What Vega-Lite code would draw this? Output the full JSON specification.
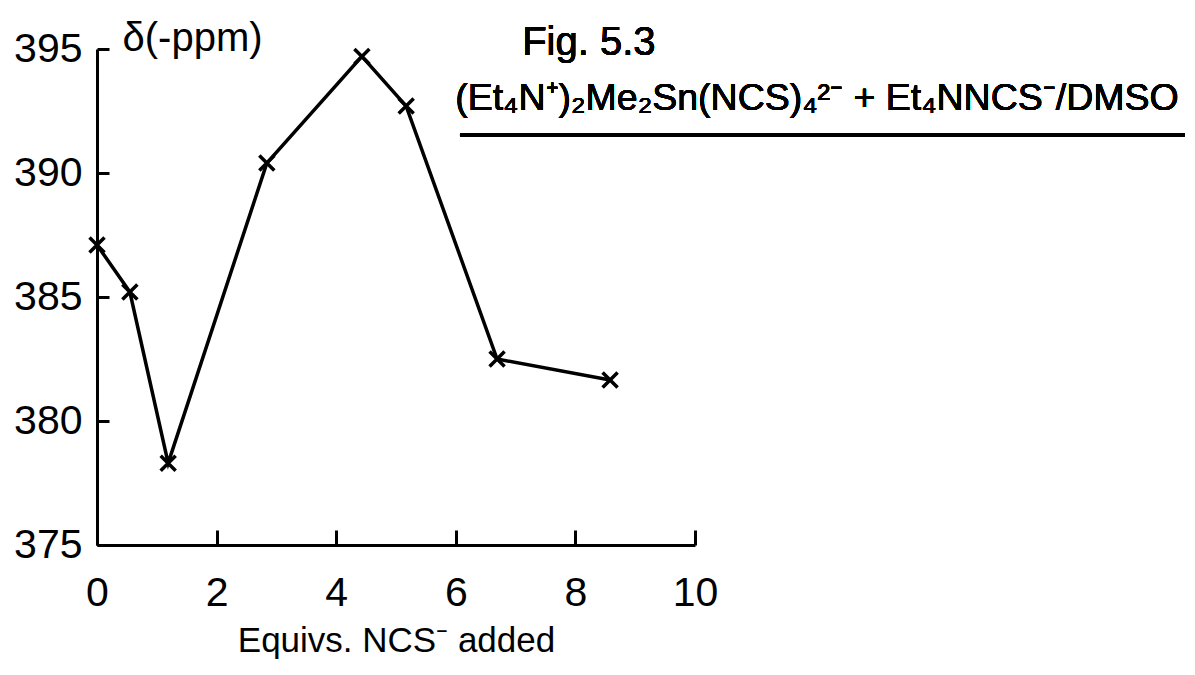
{
  "$schema": "https://vega.github.io/schema/vega-lite/v6.json",
  "autosize": {"type": "none"},
  "padding": {"left": 97, "top": 49, "right": 500, "bottom": 130},
  "width": 598,
  "height": 496,
  "background": "white",
  "config": {
    "view": {"stroke": null},
    "font": "Liberation Sans"
  },
  "data": {
    "values": [
      {"equivs": 0.0, "shift": 387.1},
      {"equivs": 0.55, "shift": 385.2},
      {"equivs": 1.19, "shift": 378.3},
      {"equivs": 2.84, "shift": 390.4},
      {"equivs": 4.43, "shift": 394.7},
      {"equivs": 5.17, "shift": 392.7},
      {"equivs": 6.69, "shift": 382.5},
      {"equivs": 8.58, "shift": 381.65}
    ]
  },
  "encoding": {
    "x": {
      "field": "equivs", "type": "quantitative",
      "scale": {"domain": [0, 10], "nice": false, "zero": false},
      "axis": {
        "title": "Equivs. NCS⁻ added",
        "values": [0, 2, 4, 6, 8, 10],
        "grid": false,
        "domainColor": "black", "domainWidth": 3,
        "tickColor": "black", "tickWidth": 3, "tickSize": -15,
        "labelFont": "Liberation Sans", "labelFontSize": 41, "labelColor": "black",
        "labelPadding": 43, "labelFlush": false,
        "titleFont": "Liberation Sans", "titleFontSize": 35, "titleFontWeight": "normal", "titleColor": "black",
        "titlePadding": 10
      }
    },
    "y": {
      "field": "shift", "type": "quantitative",
      "scale": {"domain": [375, 395], "nice": false, "zero": false},
      "axis": {
        "title": "δ(-ppm)",
        "titleAngle": 0, "titleAlign": "left", "titleBaseline": "alphabetic",
        "titleX": 25, "titleY": 1,
        "titleFont": "Liberation Sans", "titleFontSize": 40, "titleFontWeight": "normal", "titleColor": "black",
        "values": [375, 380, 385, 390, 395],
        "grid": false,
        "domainColor": "black", "domainWidth": 3,
        "tickColor": "black", "tickWidth": 3, "tickSize": -12,
        "labelFont": "Liberation Sans", "labelFontSize": 41, "labelColor": "black",
        "labelPadding": 27, "labelFlush": false
      }
    }
  },
  "layer": [
    {"mark": {"type": "line", "color": "black", "strokeWidth": 3.5}},
    {"mark": {"type": "point", "shape": "M-1,-1L1,1M-1,1L1,-1", "filled": false, "stroke": "black", "strokeWidth": 3.5, "size": 225, "opacity": 1}},
    {
      "mark": {"type": "text", "text": "Fig. 5.3", "align": "left", "baseline": "alphabetic", "fontSize": 40, "font": "Liberation Sans", "color": "black"},
      "encoding": {"x": {"datum": 7.11}, "y": {"datum": 394.76}}
    },
    {
      "mark": {"type": "text", "text": "(Et₄N⁺)₂Me₂Sn(NCS)₄²⁻  +  Et₄NNCS⁻/DMSO", "align": "left", "baseline": "alphabetic", "fontSize": 37.5, "font": "Liberation Sans", "color": "black"},
      "encoding": {"x": {"datum": 5.99}, "y": {"datum": 392.54}}
    },
    {
      "mark": {"type": "rule", "color": "black", "strokeWidth": 3},
      "encoding": {"x": {"datum": 6.07}, "x2": {"datum": 18.19}, "y": {"datum": 391.53}}
    }
  ]
}
